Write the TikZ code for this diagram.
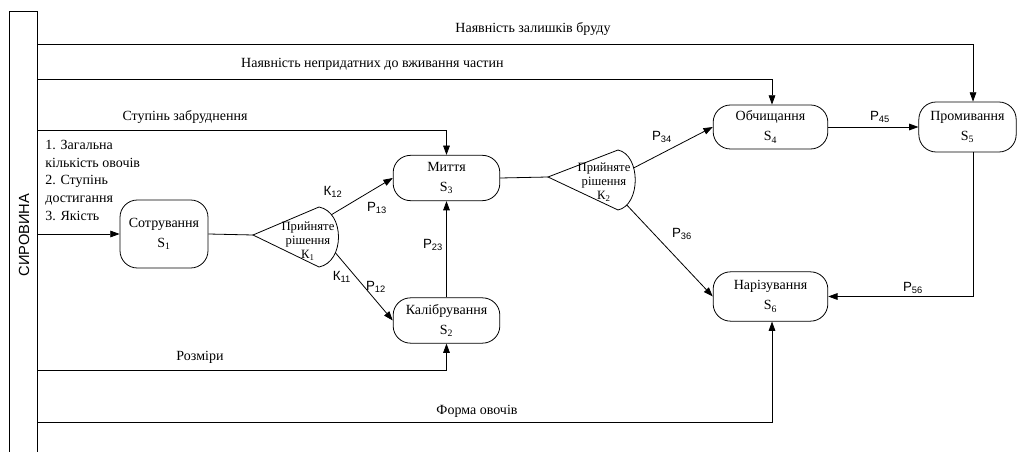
\documentclass[tikz,border=0pt]{standalone}
\usepackage{fontspec}
\setmainfont{Liberation Serif}
\setsansfont{Liberation Sans}
\usetikzlibrary{arrows.meta}
\tikzset{state/.style={draw,rounded corners=13pt,align=center,inner sep=1pt,font=\fontsize{10.5}{15}\selectfont},
    lbl/.style={inner sep=0.75pt,font=\fontsize{10.5}{13.2}\selectfont},
    plbl/.style={inner sep=0.75pt,font=\sffamily\fontsize{10}{12}\selectfont},
    dtext/.style={align=center,inner sep=0pt,font=\fontsize{9.5}{10.5}\selectfont},
    flow/.style={-{Triangle[length=7pt,width=5pt]}}}

\begin{document}
\begin{tikzpicture}[x=0.75pt,y=0.75pt,yscale=-1,xscale=1,line width=0.6pt]
\useasboundingbox (0,0) rectangle (1020,452);

%Shape: Bar
\node[draw,anchor=north west,minimum width=21pt,minimum height=337pt,inner sep=0pt] (raw) at (9,11) {};
\node[rotate=90,font=\sffamily\fontsize{11}{12}\selectfont] (rawlbl) at (24,235) {СИРОВИНА};

%Shape: Rounded Rect
\node[state,minimum width=66pt,minimum height=51pt] (s1) at (164,234) {Сотрування\\S\textsubscript{1}};
\node[state,minimum width=80pt,minimum height=34pt] (s3) at (446.5,178) {Миття\\S\textsubscript{3}};
\node[state,minimum width=80pt,minimum height=34pt] (s2) at (446.5,320.5) {Калібрування\\S\textsubscript{2}};
\node[state,minimum width=86pt,minimum height=33pt] (s4) at (770.5,127) {Обчищання\\S\textsubscript{4}};
\node[state,minimum width=73pt,minimum height=37.5pt] (s5) at (967.5,127) {Промивання\\S\textsubscript{5}};
\node[state,minimum width=86pt,minimum height=37pt] (s6) at (770.5,296.5) {Нарізування\\S\textsubscript{6}};

%Shape: Decision
\draw (253,235) coordinate (k1in) -- (319,207) .. controls (345,212) and (345,262) .. coordinate[pos=0.2] (k1a) coordinate[pos=0.7] (k1b) (319,267) -- cycle;
\node[dtext] (k1) at (308,241) {Прийняте\\рішення\\К\textsubscript{1}};
\draw (548,177) coordinate (k2in) -- (618,150) .. controls (641,155) and (641,205) .. coordinate[pos=0.35] (k2a) coordinate[pos=0.85] (k2b) (618,210) -- cycle;
\node[dtext] (k2) at (604,182) {Прийняте\\рішення\\К\textsubscript{2}};

%Straight Lines
\coordinate (c5) at (973,44);
\coordinate (c4) at (772,79);
\coordinate (c3) at (446.5,130);
\coordinate (c2) at (446.5,370);
\coordinate (c6) at (772,422);
\draw[flow] (raw.east |- c5) -- (c5) -- (c5 |- s5.north);
\draw[flow] (raw.east |- c4) -- (c4) -- (c4 |- s4.north);
\draw[flow] (raw.east |- c3) -- (c3) -- (s3.north);
\draw[flow] (raw.east |- s1.west) -- (s1.west);
\draw[flow] (raw.east |- c2) -- (c2) -- (s2.south);
\draw[flow] (raw.east |- c6) -- (c6) -- (c6 |- s6.south);

\draw (s1.east) -- (k1in);
\draw[flow] (k1a) -- (s3.west);
\draw[flow] (k1b) -- (s2.west);
\draw[flow] (s2.north) -- (s3.south);
\draw (s3.east) -- (k2in);
\draw[flow] (k2a) -- (s4.west);
\draw[flow] (k2b) -- (s6.west);
\draw[flow] (s4.east) -- (s5.west);
\draw[flow] (c5 |- s5.south) -- (c5 |- s6.east) -- (s6.east);

% Text Node
\node[lbl] (t5) at (533,29) {Наявність залишків бруду};
% Text Node
\node[lbl,anchor=east] (t4) at (505,64) {Наявність непридатних до вживання частин};
% Text Node
\node[lbl] (t3) at (185,117) {Ступінь забруднення};
% Text Node
\node[lbl,anchor=north west,align=left,inner sep=0pt] (t1) at (45,140) {1. Загальна\\кількість овочів\\2. Ступінь\\достигання\\3. Якість};
% Text Node
\node[lbl] (t2) at (200,357) {Розміри};
% Text Node
\node[lbl] (t6) at (477,411) {Форма овочів};

% Text Node
\node[plbl] (l12) at (333,192) {К\textsubscript{12}};
\node[plbl] (p13) at (377,208) {P\textsubscript{13}};
\node[plbl] (l11) at (342,277) {К\textsubscript{11}};
\node[plbl] (p12) at (376,287) {P\textsubscript{12}};
\node[plbl] (p23) at (433,245) {P\textsubscript{23}};
\node[plbl] (p34) at (662,137) {P\textsubscript{34}};
\node[plbl] (p36) at (682,234) {P\textsubscript{36}};
\node[plbl] (p45) at (880,117) {P\textsubscript{45}};
\node[plbl] (p56) at (913,288) {P\textsubscript{56}};

\end{tikzpicture}
\end{document}
